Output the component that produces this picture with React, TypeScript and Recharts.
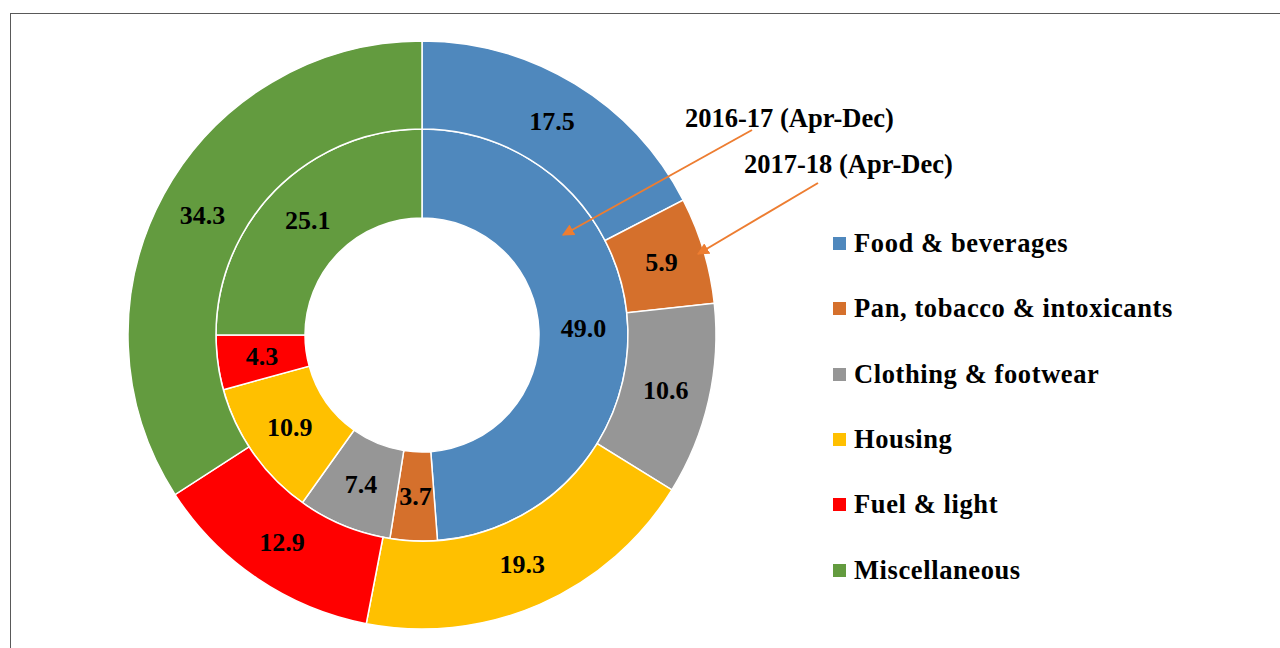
import { PieChart, Pie, Cell, Legend } from "recharts"

const categories = [
  "Food & beverages",
  "Pan, tobacco & intoxicants",
  "Clothing & footwear",
  "Housing",
  "Fuel & light",
  "Miscellaneous",
]
const colors = ["#4f88bd", "#d5702c", "#969696", "#ffc000", "#ff0000", "#639b3f"]

// inner ring = 2016-17, outer ring = 2017-18 (both Apr-Dec)
const share201617 = [49.0, 3.7, 7.4, 10.9, 4.3, 25.1]
const share201718 = [17.5, 5.9, 10.6, 19.3, 12.9, 34.3]

const innerData = categories.map((name, i) => ({ name, value: share201617[i] }))
const outerData = categories.map((name, i) => ({ name, value: share201718[i] }))

const RAD = Math.PI / 180
const font = "Liberation Serif, DejaVu Serif, serif"

const renderLabel = (props: any) => {
  const { cx, cy, midAngle, innerRadius, outerRadius, value } = props
  const r = (innerRadius + outerRadius) / 2
  const x = cx + r * Math.cos(-midAngle * RAD)
  const y = cy + r * Math.sin(-midAngle * RAD)
  return (
    <text
      x={x}
      y={y}
      fill="#000"
      textAnchor="middle"
      dominantBaseline="central"
      fontFamily={font}
      fontWeight="bold"
      fontSize={26}
    >
      {Number(value).toFixed(1)}
    </text>
  )
}

const renderLegend = () => (
  <div style={{ fontFamily: font, fontWeight: "bold", fontSize: 26.5, color: "#000" }}>
    {categories.map((c, i) => (
      <div key={c} style={{ display: "flex", alignItems: "center", height: 65.3 }}>
        <span style={{ width: 13, height: 13, background: colors[i], marginRight: 8, display: "inline-block" }} />
        <span style={{ letterSpacing: 0.6 }}>{c}</span>
      </div>
    ))}
  </div>
)

export default function App() {
  return (
    <div style={{ position: "fixed", left: 0, top: 0, width: 1280, height: 648, overflow: "hidden", background: "#fff" }}>
      <div
        style={{
          position: "absolute",
          left: 10,
          top: 13,
          width: 1300,
          height: 700,
          border: "1.5px solid #595959",
          boxSizing: "border-box",
        }}
      />
      <div style={{ position: "absolute", left: 0, top: 0 }}>
        <PieChart width={1280} height={648} margin={{ top: 0, right: 0, bottom: 0, left: 0 }}>
          <Pie
            data={innerData}
            dataKey="value"
            cx={422}
            cy={335}
            innerRadius={117}
            outerRadius={206}
            startAngle={90}
            endAngle={-270}
            stroke="#fff"
            strokeWidth={1.5}
            labelLine={false}
            label={renderLabel}
            isAnimationActive={false}
          >
            {innerData.map((d, i) => (
              <Cell key={`in-${i}`} fill={colors[i]} />
            ))}
          </Pie>
          <Pie
            data={outerData}
            dataKey="value"
            cx={422}
            cy={335}
            innerRadius={206}
            outerRadius={294}
            startAngle={90}
            endAngle={-270}
            stroke="#fff"
            strokeWidth={1.5}
            labelLine={false}
            label={renderLabel}
            isAnimationActive={false}
          >
            {outerData.map((d, i) => (
              <Cell key={`out-${i}`} fill={colors[i]} />
            ))}
          </Pie>
          <Legend
            layout="vertical"
            content={renderLegend}
            wrapperStyle={{ position: "absolute", left: 833, top: 211, width: 440 }}
          />
        </PieChart>
      </div>
      <svg width={1280} height={648} style={{ position: "absolute", left: 0, top: 0, pointerEvents: "none" }}>
        <defs>
          <marker id="arr" viewBox="0 0 10 10" refX="9" refY="5" markerWidth="6" markerHeight="6" orient="auto">
            <path d="M0,0 L10,5 L0,10 z" fill="#ed7d31" />
          </marker>
        </defs>
        <text x={685} y={127} fontFamily={font} fontWeight="bold" fontSize={26.5} fill="#000">
          2016-17 (Apr-Dec)
        </text>
        <text x={744} y={173} fontFamily={font} fontWeight="bold" fontSize={26.5} fill="#000">
          2017-18 (Apr-Dec)
        </text>
        <line x1={752} y1={130} x2={563} y2={235} stroke="#ed7d31" strokeWidth={2} markerEnd="url(#arr)" />
        <line x1={818} y1={183} x2={698} y2={254} stroke="#ed7d31" strokeWidth={2} markerEnd="url(#arr)" />
      </svg>
    </div>
  )
}
